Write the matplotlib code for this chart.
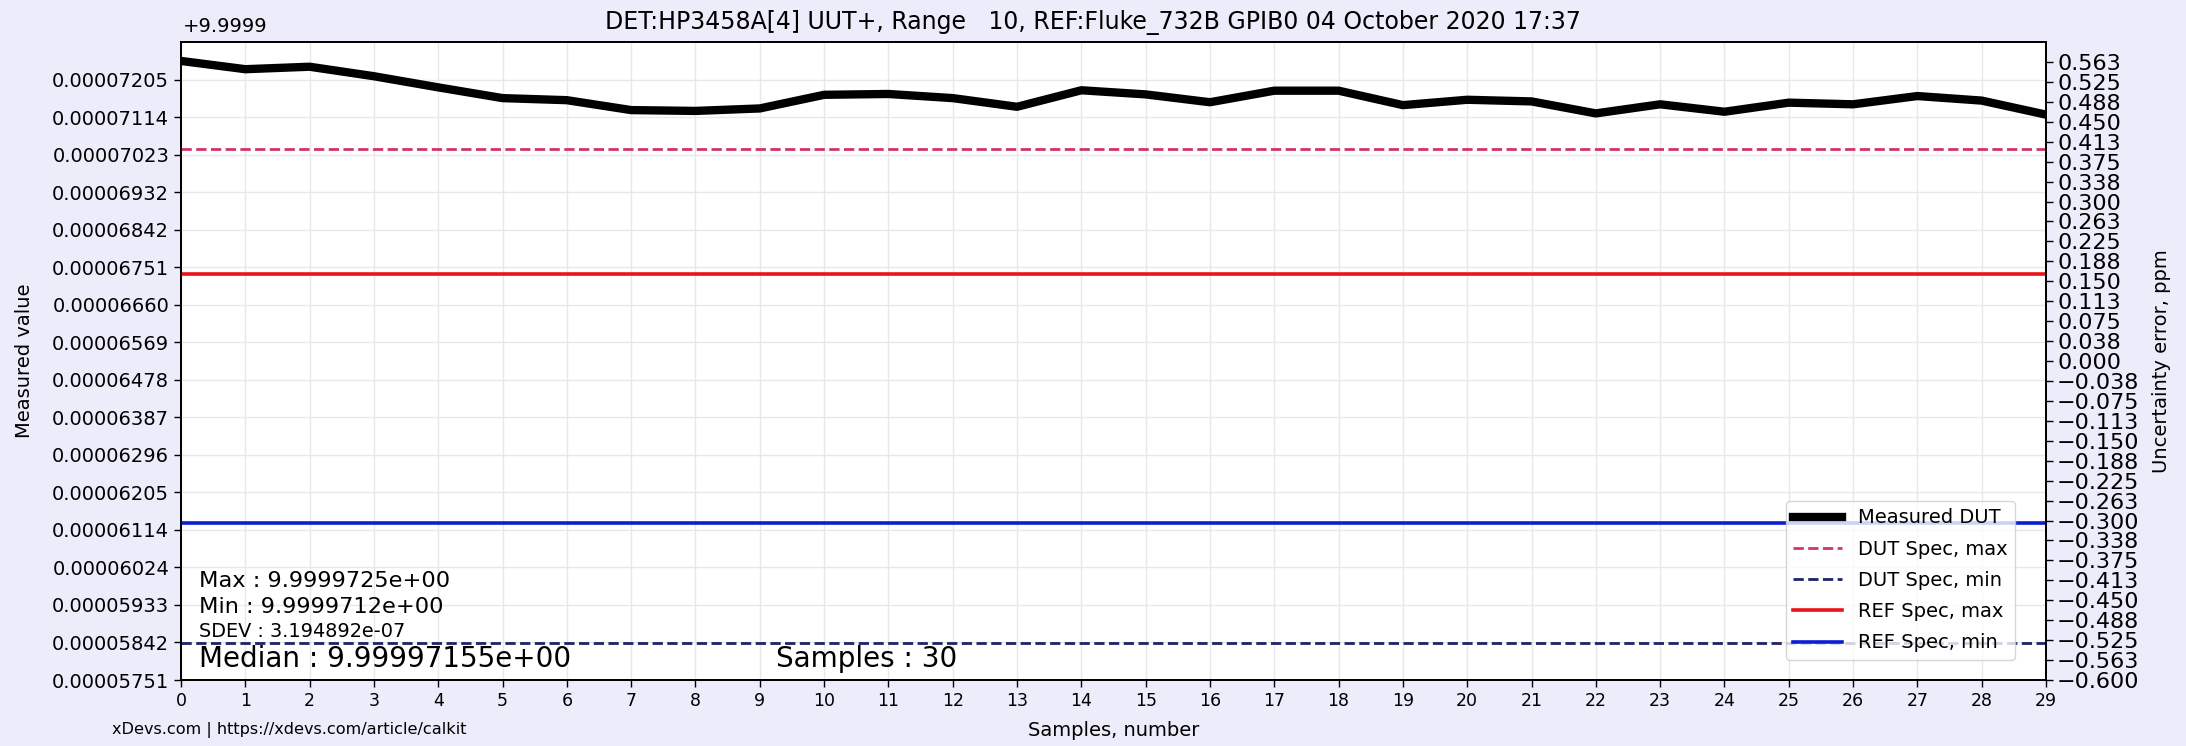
import numpy as np
import matplotlib
matplotlib.use("Agg")
import matplotlib.pyplot as plt
from decimal import Decimal, ROUND_HALF_UP

# ---------------- data ----------------
OFFSET = 9.9999
samples = list(range(30))
measured_dut = [9.99997250, 9.99997230, 9.99997236, 9.99997213, 9.99997186,
                9.99997160, 9.99997155, 9.99997131, 9.99997129, 9.99997135,
                9.99997168, 9.99997170, 9.99997160, 9.99997139, 9.99997179,
                9.99997169, 9.99997150, 9.99997178, 9.99997178, 9.99997143,
                9.99997156, 9.99997152, 9.99997123, 9.99997145, 9.99997127,
                9.99997149, 9.99997145, 9.99997165, 9.99997154, 9.99997120]
dut_spec_max = 9.99997037
dut_spec_min = 9.99995841
ref_spec_max = 9.99996735
ref_spec_min = 9.99996131

left_ylim = (0.00005751, 0.000072958750)
left_tick_labels = ["0.00005751", "0.00005842", "0.00005933", "0.00006024",
                    "0.00006114", "0.00006205", "0.00006296", "0.00006387",
                    "0.00006478", "0.00006569", "0.00006660", "0.00006751",
                    "0.00006842", "0.00006932", "0.00007023", "0.00007114",
                    "0.00007205"]
right_ylim = (-0.6, 0.6)
right_tick_step = 0.0375

title = "DET:HP3458A[4] UUT+, Range   10, REF:Fluke_732B GPIB0 04 October 2020 17:37"
stats_max = "Max : 9.9999725e+00"
stats_min = "Min : 9.9999712e+00"
stats_sdev = "SDEV : 3.194892e-07"
stats_median = "Median : 9.99997155e+00"
stats_samples = "Samples : 30"
watermark = "xDevs.com | https://xdevs.com/article/calkit"

# ---------------- figure ----------------
W, H = 2186, 746
fig = plt.figure(figsize=(W / 100, H / 100), dpi=100, facecolor="#ECECFA")
ax = fig.add_axes([181 / W, 66 / H, 1865 / W, 638 / H])
ax.set_facecolor("white")

x = np.array(samples)
rel = lambda v: np.asarray(v) - OFFSET

l1, = ax.plot(x, rel(measured_dut), color="black", lw=6, label="Measured DUT", zorder=5)
l2, = ax.plot([x[0], x[-1]], rel([dut_spec_max] * 2), color="#D0336B", lw=2,
              ls="--", label="DUT Spec, max", zorder=4)
l3, = ax.plot([x[0], x[-1]], rel([dut_spec_min] * 2), color="#1E2266", lw=2,
              ls="--", label="DUT Spec, min", zorder=4)
l4, = ax.plot([x[0], x[-1]], rel([ref_spec_max] * 2), color="#E8141B", lw=2.6,
              label="REF Spec, max", zorder=4)
l5, = ax.plot([x[0], x[-1]], rel([ref_spec_min] * 2), color="#0A1ED2", lw=2.6,
              label="REF Spec, min", zorder=4)

ax.set_xlim(x[0], x[-1])
ax.set_xticks(x)
ax.tick_params(axis="x", labelsize=12.5, length=5, width=1)
ax.set_ylim(*left_ylim)
yt = np.linspace(left_ylim[0], left_ylim[0] + 16 * (left_ylim[1] - left_ylim[0]) / 17,
                 len(left_tick_labels))
ax.set_yticks(yt)
ax.set_yticklabels(left_tick_labels)
ax.tick_params(axis="y", labelsize=14, length=5, width=1)
ax.grid(True, color="#E8E8E8", lw=1, zorder=0)
ax.set_axisbelow(True)
for s in ax.spines.values():
    s.set_linewidth(1.3)

ax.set_xlabel("Samples, number", fontsize=14)
ax.xaxis.set_label_coords(0.5, -0.064)
ax.set_ylabel("Measured value", fontsize=14)
ax.yaxis.set_label_coords(-0.079, 0.5)

ax2 = ax.twinx()
ax2.set_ylim(*right_ylim)
rt = np.arange(right_ylim[0], right_ylim[1] - 1e-9, right_tick_step)
ax2.set_yticks(rt)


def fmt(v):
    s = str(Decimal(str(round(v, 4))).quantize(Decimal("0.001"), rounding=ROUND_HALF_UP))
    if s.startswith("-"):
        s = "\u2212" + s[1:]
    if s == "\u22120.000":
        s = "0.000"
    return s


ax2.set_yticklabels([fmt(v) for v in rt])
ax2.tick_params(axis="y", labelsize=16, length=5, width=1, pad=3)
ax2.set_ylabel("Uncertainty error, ppm", fontsize=14)
ax2.yaxis.set_label_coords(1.057, 0.5)
for s in ax2.spines.values():
    s.set_linewidth(1.3)

leg = ax.legend(handles=[l1, l2, l3, l4, l5], loc="lower right",
                bbox_to_anchor=(0.9834, 0.031), borderaxespad=0, fontsize=14,
                handlelength=2.5, labelspacing=0.63)
leg.set_zorder(10)

# stats texts
ax.text(0.0095, 0.1458, stats_max, transform=ax.transAxes, fontsize=16.2, va="baseline")
ax.text(0.0095, 0.1050, stats_min, transform=ax.transAxes, fontsize=16.2, va="baseline")
ax.text(0.0095, 0.0680, stats_sdev, transform=ax.transAxes, fontsize=13.9, va="baseline")
ax.text(0.0095, 0.0200, stats_median, transform=ax.transAxes, fontsize=20, va="baseline")
ax.text(0.319, 0.0200, stats_samples, transform=ax.transAxes, fontsize=20, va="baseline")

# offset text, title, watermark
fig.text(183 / W, 1 - 32 / H, "+9.9999", fontsize=14, va="baseline", ha="left")
fig.text(0.5, 1 - 29 / H, title, fontsize=17, va="baseline", ha="center")
fig.text(112 / W, 1 - 734 / H, watermark, fontsize=11.6, va="baseline", ha="left")

fig.savefig("out.png", dpi=100, facecolor=fig.get_facecolor())
